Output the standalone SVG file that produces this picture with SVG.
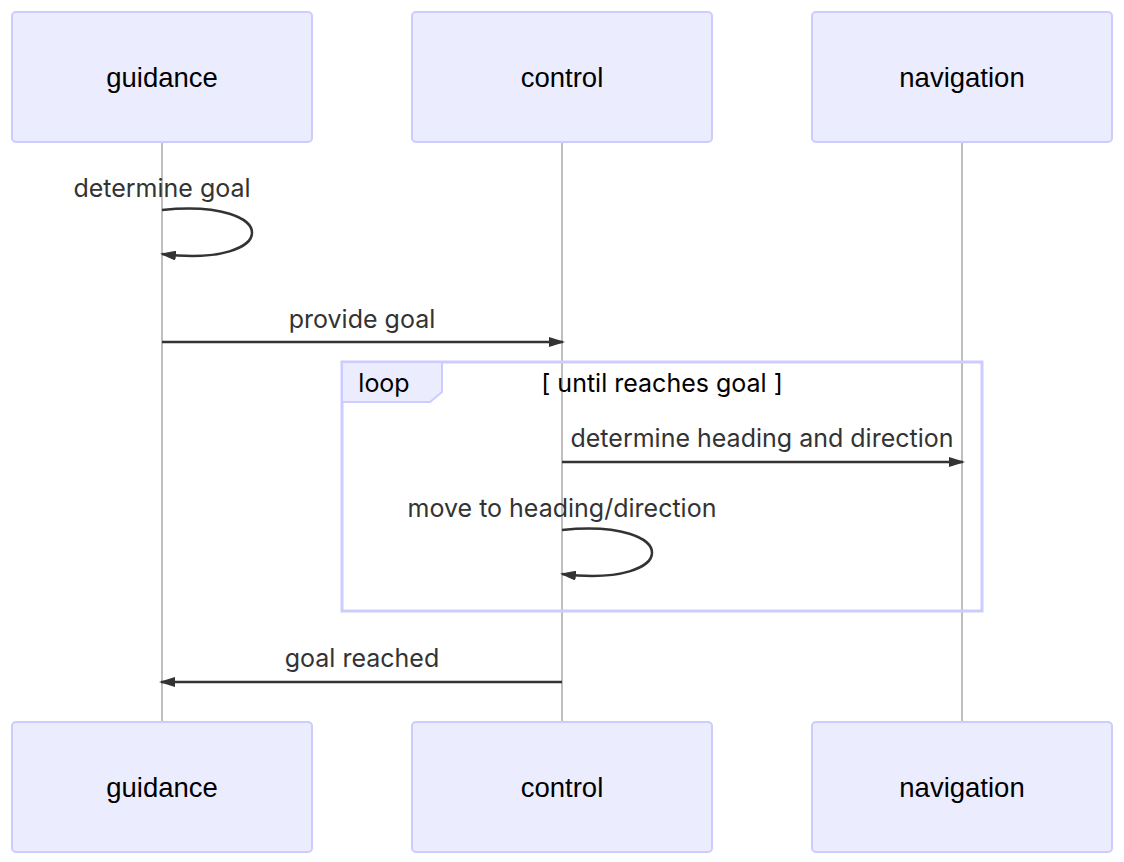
<svg xmlns="http://www.w3.org/2000/svg" width="1124" height="862" viewBox="0 0 1124 862">
<style>
.actor{fill:#ECECFF;stroke:#CCCCFF;stroke-width:2}
.atext{font-family:"Liberation Sans",Arial,sans-serif;font-size:27.5px;fill:#000;text-anchor:middle;dominant-baseline:central}
.life{stroke:#AAAAAA;stroke-width:1.5}
.msg{stroke:#333;stroke-width:2.5;fill:none}
.mtext{font-family:Inter,"Liberation Sans",sans-serif;font-size:25px;fill:#333;text-anchor:middle}
.loopbox{fill:none;stroke:#CCCCFF;stroke-width:3}
.looptab{fill:#ECECFF;stroke:#CCCCFF;stroke-width:2}
.ltext{font-family:Inter,"Liberation Sans",sans-serif;font-size:25px;fill:#000;text-anchor:middle}
</style>
<defs>
<marker id="arrow" viewBox="0 0 16 10" refX="14" refY="5" markerWidth="16" markerHeight="10" markerUnits="userSpaceOnUse" orient="auto">
<path d="M0,0 L16,5 L0,10 z" fill="#333"/>
</marker>
</defs>
<rect width="1124" height="862" fill="#fff"/>
<g id="lifelines">
<line class="life" x1="162" y1="142" x2="162" y2="722"/>
<line class="life" x1="562" y1="142" x2="562" y2="722"/>
<line class="life" x1="962" y1="142" x2="962" y2="722"/>
</g>
<g id="actor-guidance-top"><rect class="actor" x="12" y="12" width="300" height="130" rx="4"/><text class="atext" x="162" y="77">guidance</text></g>
<g id="actor-control-top"><rect class="actor" x="412" y="12" width="300" height="130" rx="4"/><text class="atext" x="562" y="77">control</text></g>
<g id="actor-navigation-top"><rect class="actor" x="812" y="12" width="300" height="130" rx="4"/><text class="atext" x="962" y="77">navigation</text></g>
<g id="actor-guidance-bottom"><rect class="actor" x="12" y="722" width="300" height="130" rx="4"/><text class="atext" x="162" y="787">guidance</text></g>
<g id="actor-control-bottom"><rect class="actor" x="412" y="722" width="300" height="130" rx="4"/><text class="atext" x="562" y="787">control</text></g>
<g id="actor-navigation-bottom"><rect class="actor" x="812" y="722" width="300" height="130" rx="4"/><text class="atext" x="962" y="787">navigation</text></g>
<g id="loop">
<rect class="loopbox" x="342" y="362" width="640" height="249"/>
<polygon class="looptab" points="342,362 442,362 442,392 430,402 342,402"/>
<text class="ltext" x="384" y="392">loop</text>
<text class="ltext" x="662" y="392">[ until reaches goal ]</text>
</g>
<g id="connectors">
<path class="msg" d="M162,210 C282,198 282,268 162,254" marker-end="url(#arrow)"/>
<line class="msg" x1="162" y1="342" x2="563" y2="342" marker-end="url(#arrow)"/>
<line class="msg" x1="562" y1="462" x2="963" y2="462" marker-end="url(#arrow)"/>
<path class="msg" d="M562,530 C682,518 682,588 562,574" marker-end="url(#arrow)"/>
<line class="msg" x1="562" y1="682" x2="161" y2="682" marker-end="url(#arrow)"/>
</g>
<g id="labels">
<text class="mtext" x="162" y="197">determine goal</text>
<text class="mtext" x="362" y="328">provide goal</text>
<text class="mtext" x="762" y="447">determine heading and direction</text>
<text class="mtext" x="562" y="517">move to heading/direction</text>
<text class="mtext" x="362" y="667">goal reached</text>
</g>
</svg>
